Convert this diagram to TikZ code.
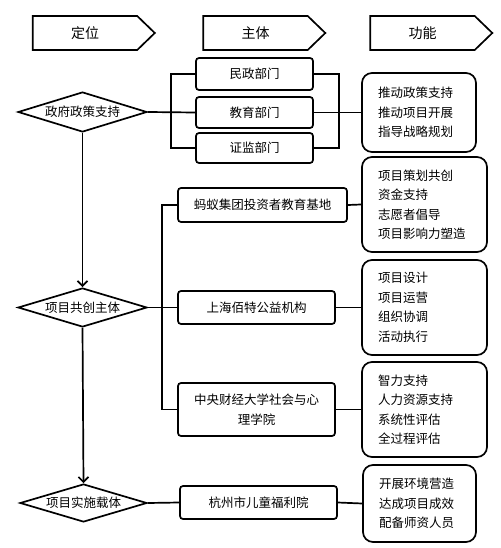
\documentclass[tikz,border=0pt]{standalone}
\usepackage{fontspec}
\newfontfamily\cjk{Noto Sans CJK SC}
\usetikzlibrary{shapes.geometric,shapes.symbols,arrows.meta}

\tikzset{
  hdrbox/.style={draw, signal, signal to=east, signal pointer angle=88,
    minimum width=122pt, minimum height=34pt, inner sep=0pt,
    font=\cjk\fontsize{14}{17}\selectfont},
  posbox/.style={draw, diamond, aspect=3.2, minimum width=129pt,
    minimum height=40pt, inner sep=0pt},
  bodybox/.style={draw, rounded corners=3pt, minimum height=33pt,
    inner sep=0pt, align=center},
  funcbox/.style={draw, rounded corners=10pt, align=left,
    inner xsep=16pt, inner ysep=0pt},
}

\begin{document}
\begin{tikzpicture}[x=1pt, y=-1pt, line width=1.7pt,
  font=\cjk\fontsize{12.5}{19.5}\selectfont]
\useasboundingbox (0,0) rectangle (500,548);

% headers
\node (hdrpos)  [hdrbox] at (85,33)    {定位};
\node (hdrbody) [hdrbox] at (255.5,33) {主体};
\node (hdrfunc) [hdrbox] at (422.5,33) {功能};

% positions
\node (gov)   [posbox] at (82.5,112)   {政府政策支持};
\node (cocr)  [posbox, minimum height=39pt] at (82.5,307.5) {项目共创主体};
\node (impl)  [posbox, minimum width=127pt, minimum height=38pt] at (83.5,503) {项目实施载体};

% bodies
\node (minzheng)  [bodybox, minimum width=117pt, minimum height=32pt] at (254.5,74)  {民政部门};
\node (jiaoyu)    [bodybox, minimum width=117pt, minimum height=31pt] at (254.5,112.5) {教育部门};
\node (zhengjian) [bodybox, minimum width=117pt, minimum height=30pt] at (254.5,148) {证监部门};
\node (mayi)      [bodybox, minimum width=169pt, minimum height=34pt] at (262.5,205) {蚂蚁集团投资者教育基地};
\node (baite)     [bodybox, minimum width=157pt] at (256.5,307.5) {上海佰特公益机构};
\node (cufe)      [bodybox, minimum width=157pt, minimum height=53pt, text width=130pt] at (256.5,409.5)
  {中央财经大学社会与心\\理学院};
\node (welfare)   [bodybox, minimum width=157pt] at (258.5,502.5) {杭州市儿童福利院};

% functions
\node (fgov)     [funcbox, text width=82pt, minimum height=79pt] at (419,112.5)
  {推动政策支持\\推动项目开展\\指导战略规划};
\node (fmayi)    [funcbox, text width=93pt, minimum height=95pt] at (424.5,204.5)
  {项目策划共创\\资金支持\\志愿者倡导\\项目影响力塑造};
\node (fbaite)   [funcbox, text width=93pt, minimum height=95pt] at (424.5,307.5)
  {项目设计\\项目运营\\组织协调\\活动执行};
\node (fcufe)    [funcbox, text width=93pt, minimum height=95pt] at (424.5,409.5)
  {智力支持\\人力资源支持\\系统性评估\\全过程评估};
\node (fwelfare) [funcbox, text width=81pt, minimum height=77pt] at (419.5,503.5)
  {开展环境营造\\达成项目成效\\配备师资人员};

% connectors
\draw (minzheng.west) -- ++(-24,0) |- (zhengjian.west);
\draw (minzheng.east) -- ++(25,0) |- (zhengjian.east);
\draw (gov.east) -- (jiaoyu.west);
\draw (jiaoyu.east) -- (fgov.west);

\draw (mayi.west) -- ++(-15,0) |- (cufe.west);
\draw (cocr.east) -- (baite.west);
\draw (mayi.east) -- (fmayi.west);
\draw (baite.east) -- (fbaite.west);
\draw (cufe.east) -- (fcufe.west);

\draw (impl.east) -- (welfare.west);
\draw (welfare.east) -- (fwelfare.west);

\draw [-{Straight Barb[length=5pt,width=10pt]}] (gov.south) -- (cocr.north);
\draw [-{Straight Barb[length=5pt,width=10pt]}] (cocr.south) -- (impl.north);
\end{tikzpicture}
\end{document}
